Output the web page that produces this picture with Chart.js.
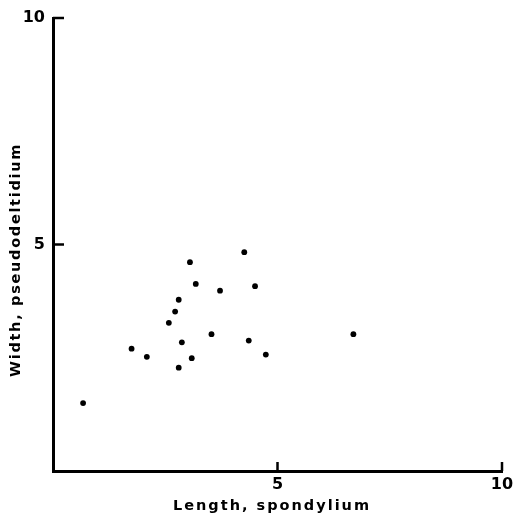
<!DOCTYPE html>
<html>
<head>
<meta charset="utf-8">
<script src="https://cdn.jsdelivr.net/npm/chart.js@4"></script>
<style>
html,body{margin:0;padding:0;background:#fff;}
#wrap{width:513px;height:518px;}
</style>
</head>
<body>
<div id="wrap"><canvas id="c" width="513" height="518"></canvas></div>
<script>
const xLabel = "Length, spondylium";
const yLabel = "Width, pseudodeltidium";
const tickValues = [5, 10];
const lengthValues = [4.26, 3.05, 3.18, 3.72, 4.50, 2.80, 2.72, 2.58, 3.53, 2.87, 4.36, 1.75, 2.09, 3.09, 4.74, 2.80, 6.69, 0.67];
const widthValues  = [4.83, 4.61, 4.13, 3.98, 4.08, 3.78, 3.52, 3.27, 3.02, 2.84, 2.88, 2.70, 2.52, 2.49, 2.57, 2.28, 3.02, 1.50];

const points = lengthValues.map((x, i) => ({x: x, y: widthValues[i]}));
const FONT = "'DejaVu Sans', sans-serif";

const decor = {
  id: 'decor',
  afterDraw(chart) {
    const ctx = chart.ctx;
    const xs = chart.scales.x, ys = chart.scales.y;
    const area = chart.chartArea;
    ctx.save();
    ctx.strokeStyle = '#000';
    ctx.lineWidth = 2.5;
    tickValues.forEach(v => {
      const py = ys.getPixelForValue(v);
      ctx.beginPath(); ctx.moveTo(area.left, py); ctx.lineTo(area.left + 11, py); ctx.stroke();
      const px = xs.getPixelForValue(v);
      ctx.beginPath(); ctx.moveTo(px, area.bottom); ctx.lineTo(px, area.bottom - 9); ctx.stroke();
    });
    ctx.fillStyle = '#000';
    ctx.font = "bold 14.5px " + FONT;
    try { ctx.letterSpacing = '2px'; } catch (e) {}
    ctx.textAlign = 'center';
    ctx.textBaseline = 'middle';
    ctx.fillText(xLabel, 272, 506);
    try { ctx.letterSpacing = '1.7px'; } catch (e) {}
    ctx.translate(16, 260);
    ctx.rotate(-Math.PI / 2);
    ctx.fillText(yLabel, 0, 0);
    ctx.restore();
  }
};

new Chart(document.getElementById('c'), {
  type: 'scatter',
  data: {
    datasets: [{
      data: points,
      backgroundColor: '#000',
      borderColor: '#000',
      pointRadius: 2.9,
      pointHoverRadius: 2.9,
      borderWidth: 0
    }]
  },
  options: {
    responsive: false,
    animation: false,
    events: [],
    layout: {padding: {left: 0, top: 18, right: 11, bottom: 0}},
    plugins: {legend: {display: false}, tooltip: {enabled: false}},
    scales: {
      x: {
        type: 'linear', min: 0, max: 10,
        afterBuildTicks: s => { s.ticks = tickValues.map(v => ({value: v})); },
        afterFit: s => { s.height = 47; s.paddingLeft = 0; s.paddingRight = 0; },
        grid: {display: false, drawTicks: false},
        border: {display: true, color: '#000', width: 3},
        ticks: {color: '#000', padding: 4, font: {family: FONT, size: 16, weight: 'bold'}, maxRotation: 0}
      },
      y: {
        type: 'linear', min: 0, max: 10,
        afterBuildTicks: s => { s.ticks = tickValues.map(v => ({value: v})); },
        afterFit: s => { s.width = 53; s.paddingTop = 0; s.paddingBottom = 0; },
        grid: {display: false, drawTicks: false},
        border: {display: true, color: '#000', width: 3},
        ticks: {color: '#000', padding: 8, font: {family: FONT, size: 16, weight: 'bold'}}
      }
    }
  },
  plugins: [decor]
});
</script>
</body>
</html>
